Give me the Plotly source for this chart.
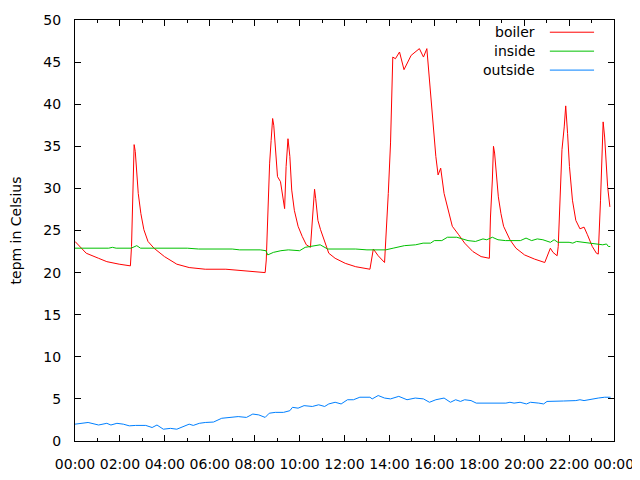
import pandas as pd
import plotly.graph_objects as go

DAY = "2013-01-15"
NEXT_DAY = "2013-01-16"

boiler_time = [
    "00:00", "00:30", "01:03", "01:25", "01:58", "02:28", "02:31", "02:33", "02:36", "02:38",
    "02:41", "02:45", "02:49", "02:56", "03:04", "03:15", "03:31", "03:59", "04:32", "05:05",
    "05:48", "06:43", "07:38", "08:06", "08:28", "08:31", "08:35", "08:40", "08:44", "08:48",
    "08:51", "08:55", "09:01", "09:09", "09:15", "09:20", "09:24", "09:29", "09:34", "09:39",
    "09:46", "09:56", "10:07", "10:18", "10:29", "10:34", "10:40", "10:43", "10:49", "10:56",
    "11:07", "11:18", "11:35", "12:02", "12:30", "13:08", "13:17", "13:30", "13:47", "13:52",
    "13:57", "14:03", "14:09", "14:16", "14:27", "14:39", "14:58", "15:20", "15:31", "15:40",
    "15:47", "15:53", "15:59", "16:04", "16:10", "16:17", "16:26", "16:37", "16:48", "17:05",
    "17:21", "17:43", "18:05", "18:27", "18:30", "18:35", "18:38", "18:41", "18:46", "18:51",
    "18:58", "19:05", "19:22", "19:38", "20:01", "20:28", "20:55", "21:10", "21:17", "21:28",
    "21:31", "21:36", "21:41", "21:47", "21:51", "21:56", "22:01", "22:09", "22:18", "22:29",
    "22:40", "22:49", "23:02", "23:13", "23:18", "23:24", "23:28", "23:31", "23:35", "23:39",
    "23:43", "23:49",
]
boiler = [
    23.7, 22.3, 21.7, 21.3, 21.0, 20.8, 23.1, 27.8, 32.6, 35.2,
    34.4, 31.8, 29.4, 27.0, 25.1, 23.7, 22.9, 21.9, 21.0, 20.6,
    20.4, 20.4, 20.2, 20.1, 20.0, 21.5, 27.8, 33.0, 35.7, 38.3,
    37.5, 34.6, 31.4, 30.8, 28.8, 27.6, 32.6, 35.9, 33.8, 29.8,
    27.4, 25.5, 24.3, 23.3, 23.0, 26.2, 29.9, 28.8, 26.2, 25.1,
    23.7, 22.3, 21.7, 21.1, 20.7, 20.4, 22.8, 22.0, 21.2, 24.7,
    29.4, 35.4, 45.6, 45.4, 46.2, 44.1, 45.8, 46.6, 45.6, 46.6,
    42.9, 39.3, 36.5, 33.8, 31.6, 32.4, 29.4, 27.4, 25.5, 24.5,
    23.5, 22.5, 21.9, 21.7, 26.6, 31.0, 35.0, 34.2, 31.4, 29.0,
    27.0, 25.5, 23.9, 22.9, 22.1, 21.6, 21.2, 22.9, 22.4, 22.0,
    23.1, 28.6, 34.6, 37.3, 39.8, 36.5, 32.6, 28.6, 26.2, 25.2,
    25.4, 24.5, 23.1, 22.3, 22.2, 28.6, 35.7, 37.9, 36.1, 32.6,
    30.2, 27.8,
]

inside_time = [
    "00:00", "01:30", "01:40", "01:50", "02:30", "02:45", "02:55", "05:00", "05:30", "07:00",
    "07:20", "08:15", "08:30", "08:35", "08:50", "09:10", "09:30", "10:00", "10:15", "10:40",
    "10:55", "11:15", "12:30", "13:00", "13:50", "14:10", "14:40", "15:10", "15:30", "15:50",
    "16:00", "16:20", "16:35", "17:00", "17:15", "17:30", "17:50", "18:10", "18:20", "18:35",
    "18:50", "19:10", "19:50", "20:05", "20:20", "20:35", "20:50", "21:10", "21:20", "21:30",
    "22:00", "22:10", "22:20", "22:50", "23:10", "23:30", "23:40", "23:45", "23:50",
]
inside = [
    22.9, 22.9, 23.0, 22.9, 22.9, 23.2, 22.9, 22.9, 22.8, 22.8,
    22.7, 22.7, 22.6, 22.1, 22.4, 22.6, 22.7, 22.6, 23.0, 23.2,
    23.3, 22.8, 22.8, 22.7, 22.7, 22.9, 23.2, 23.3, 23.5, 23.5,
    23.8, 23.8, 24.2, 24.2, 24.0, 23.8, 23.7, 24.0, 23.9, 24.2,
    23.9, 23.8, 23.8, 24.1, 23.8, 24.0, 23.9, 23.6, 23.9, 23.6,
    23.6, 23.5, 23.7, 23.5, 23.4, 23.3, 23.4, 23.1, 23.1,
]

outside_time = [
    "00:00", "00:35", "01:03", "01:25", "01:36", "01:52", "02:09", "02:25", "02:42", "03:09",
    "03:26", "03:39", "03:56", "04:15", "04:32", "04:48", "05:05", "05:16", "05:32", "05:48",
    "06:10", "06:32", "07:00", "07:16", "07:38", "07:55", "08:11", "08:28", "08:39", "08:55",
    "09:17", "09:34", "09:41", "09:56", "10:12", "10:34", "10:51", "11:07", "11:18", "11:35",
    "11:51", "12:08", "12:24", "12:41", "13:08", "13:14", "13:30", "13:47", "14:03", "14:25",
    "14:47", "15:09", "15:31", "15:47", "16:04", "16:26", "16:43", "16:57", "17:10", "17:21",
    "17:38", "17:52", "19:11", "19:22", "19:33", "19:49", "20:06", "20:17", "20:39", "20:52",
    "21:01", "21:34", "21:45", "22:18", "22:29", "22:40", "23:00", "23:18", "23:35", "23:51",
]
outside = [
    2.0, 2.2, 1.9, 2.1, 1.9, 2.1, 2.0, 1.8, 1.85, 1.85,
    1.6, 1.9, 1.4, 1.5, 1.4, 1.7, 2.0, 1.85, 2.1, 2.2,
    2.25, 2.7, 2.8, 2.9, 2.8, 3.2, 3.1, 2.8, 3.3, 3.4,
    3.4, 3.6, 4.0, 3.9, 4.2, 4.1, 4.3, 4.1, 4.4, 4.6,
    4.4, 4.9, 4.9, 5.2, 5.2, 5.0, 5.4, 5.1, 5.0, 5.3,
    4.9, 5.1, 5.0, 4.6, 4.9, 5.1, 4.6, 4.9, 4.7, 4.9,
    4.8, 4.5, 4.5, 4.6, 4.5, 4.6, 4.4, 4.6, 4.5, 4.4,
    4.7, 4.7, 4.75, 4.8, 4.9, 4.8, 5.0, 5.1, 5.2, 5.2,
]

series = [
    ("boiler", boiler_time, boiler, "#ff0000"),
    ("inside", inside_time, inside, "#00c000"),
    ("outside", outside_time, outside, "#0080ff"),
]

FONT = "DejaVu Sans"
FSIZE = 14

fig = go.Figure()
for name, times, vals, color in series:
    x = pd.to_datetime([f"{DAY} {t}" for t in times])
    fig.add_trace(go.Scatter(x=x, y=vals, mode="lines", name=name,
                             line=dict(color=color, width=1)))

# gnuplot-style key: text right aligned, sample line to the right
key_y = [0.971, 0.926, 0.881]
for (name, _, _, color), ky in zip(series, key_y):
    fig.add_annotation(x=0.857, y=ky, xref="paper", yref="paper", text=name,
                       showarrow=False, xanchor="right", yanchor="middle",
                       font=dict(family=FONT, size=FSIZE, color="#000"))
    fig.add_shape(type="line", xref="paper", yref="paper", x0=0.881, x1=0.963,
                  y0=ky, y1=ky, line=dict(color=color, width=1))

axis_common = dict(showline=True, linecolor="black", linewidth=1, mirror="allticks",
                   ticks="inside", ticklen=6, tickcolor="black", showgrid=False,
                   zeroline=False, ticklabelstandoff=10, automargin=False,
                   tickfont=dict(family=FONT, size=FSIZE, color="#000"))

# page body has an 8px margin, so the figure is shrunk by that much
fig.update_layout(
    width=632, height=472,
    margin=dict(l=67, r=26, t=12, b=39),
    plot_bgcolor="white", paper_bgcolor="white",
    showlegend=False,
    xaxis=dict(range=[pd.Timestamp(f"{DAY} 00:00"), pd.Timestamp(f"{NEXT_DAY} 00:00")],
               tickformat="%H:%M", dtick=2 * 3600 * 1000,
               tick0=pd.Timestamp(f"{DAY} 00:00"),
               minor=dict(ticks="inside", ticklen=3, dtick=3600 * 1000, tickcolor="black"),
               **axis_common),
    yaxis=dict(range=[0, 50], dtick=5,
               title=dict(text="tepm in Celsius", font=dict(family=FONT, size=FSIZE, color="#000"),
                          standoff=25),
               **axis_common),
)

fig.write_html("out.html")
